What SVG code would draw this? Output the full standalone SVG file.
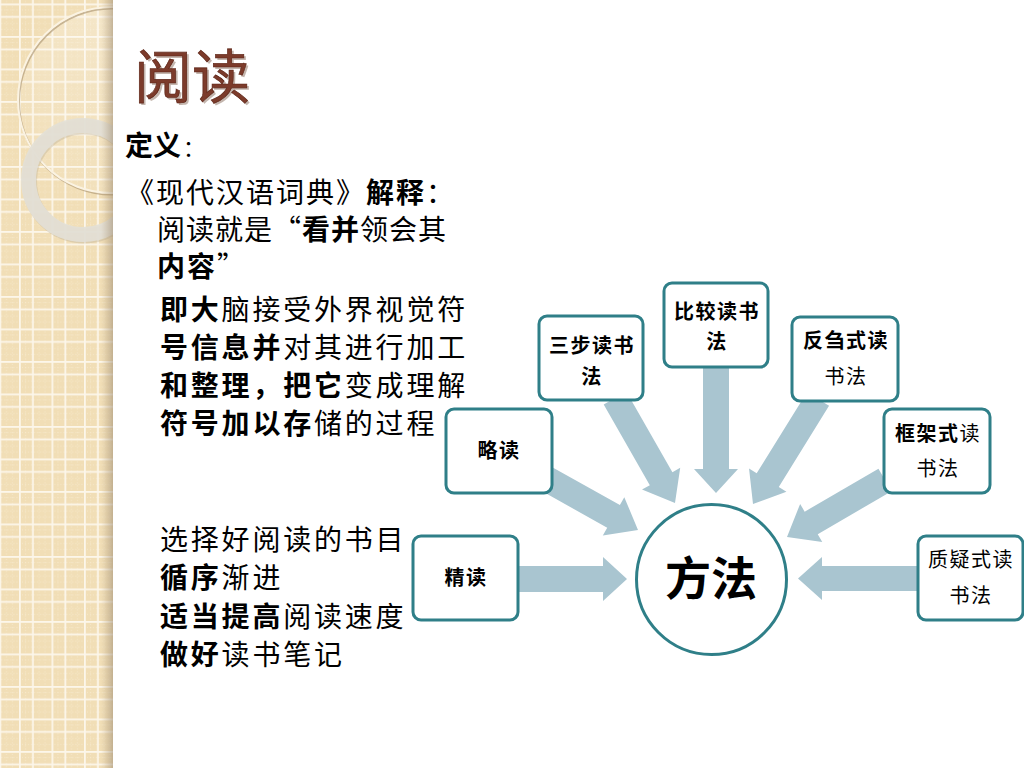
<svg xmlns="http://www.w3.org/2000/svg" width="1024" height="768" viewBox="0 0 1024 768">
<style>
  text { font-family: "Noto Sans CJK SC", "Noto Sans", sans-serif; fill: #000; }
  .body { font-size: 28px; letter-spacing: 2.8px; }
  .body1 { font-size: 28px; letter-spacing: 2px; }
  .b { font-weight: 700; }
  .node { fill: #ffffff; stroke: #2f7f88; stroke-width: 3; }
  .nt { font-size: 20px; font-weight: 700; letter-spacing: 1.5px; text-anchor: middle; }
  .nr { font-size: 20px; font-weight: 400; letter-spacing: 1.5px; text-anchor: middle; }
  .arrow { fill: #a9c5d0; }
</style>
<defs>
  <pattern id="grid" patternUnits="userSpaceOnUse" x="19" y="3.5" width="32.5" height="32.5">
    <rect width="32.5" height="32.5" fill="#f1deb6"/>
    <path d="M6.5 0V32.5M20 0V32.5M26 0V32.5M0 6.5H32.5M0 20H32.5M0 26H32.5" stroke="#f7ead0" stroke-width="0.8" stroke-dasharray="1 2"/>
    <rect x="0" y="0" width="1.8" height="32.5" fill="#fcf6ea"/>
    <rect x="13" y="0" width="1.8" height="32.5" fill="#fcf6ea"/>
    <rect x="0" y="0" width="32.5" height="1.8" fill="#fcf6ea"/>
    <rect x="0" y="12.5" width="32.5" height="1.8" fill="#fcf6ea"/>
  </pattern>
  <linearGradient id="edge" x1="0" y1="0" x2="1" y2="0">
    <stop offset="0" stop-color="#b09a78" stop-opacity="0"/>
    <stop offset="1" stop-color="#9c8a70" stop-opacity="0.55"/>
  </linearGradient>
  <linearGradient id="hl" x1="0" y1="1" x2="1" y2="0">
    <stop offset="0" stop-color="#ffffff" stop-opacity="0"/>
    <stop offset="1" stop-color="#ffffff" stop-opacity="0.35"/>
  </linearGradient>
  <clipPath id="strip"><rect x="0" y="0" width="113" height="768"/></clipPath>
</defs>

<rect x="0" y="0" width="1024" height="768" fill="#ffffff"/>

<g id="side-strip" clip-path="url(#strip)">
  <rect x="0" y="0" width="113" height="768" fill="url(#grid)"/>
  <circle cx="111" cy="100" r="93" fill="url(#hl)"/>
  <circle cx="112" cy="101.5" r="93" fill="none" stroke="#a8916c" stroke-width="2" opacity="0.6"/>
  <circle cx="111" cy="100" r="93" fill="none" stroke="#fbf3e2" stroke-width="2"/>
  <circle cx="84" cy="181.5" r="54.5" fill="none" stroke="#b8ab96" stroke-width="15" opacity="0.35"/>
  <circle cx="83" cy="180" r="54.5" fill="none" stroke="#e3dfd6" stroke-width="15" opacity="0.92"/>
  <rect x="101" y="0" width="12" height="768" fill="url(#edge)"/>
</g>

<g id="title">
  <text x="136" y="100" font-size="58" style="fill:#c4b6ae">阅读</text>
  <text x="134" y="98" font-size="58" style="fill:#7c3b2b" stroke="#5a2214" stroke-width="0.6">阅读</text>
</g>

<g id="definition">
  <text x="125" y="156" font-size="28"><tspan class="b">定义</tspan><tspan font-size="22" dx="2">：</tspan></text>
  <text class="body1" x="126" y="203">《现代汉语词典》<tspan class="b">解释</tspan>：</text>
  <text class="body1" x="157" y="240" style="letter-spacing:1px">阅读就是“<tspan class="b">看并</tspan>领会其</text>
  <text class="body1" x="157" y="277"><tspan class="b">内容</tspan>”</text>
</g>

<g id="explanation">
  <text class="body" x="160" y="320"><tspan class="b">即大</tspan>脑接受外界视觉符</text>
  <text class="body" x="160" y="358"><tspan class="b">号信息并</tspan>对其进行加工</text>
  <text class="body" x="160" y="396"><tspan class="b">和整理，把它</tspan>变成理解</text>
  <text class="body" x="160" y="434"><tspan class="b">符号加以存</tspan>储的过程</text>
</g>

<g id="tips">
  <text class="body" x="160" y="550">选择好阅读的书目</text>
  <text class="body" x="160" y="588"><tspan class="b">循序</tspan>渐进</text>
  <text class="body" x="160" y="627"><tspan class="b">适当提高</tspan>阅读速度</text>
  <text class="body" x="160" y="665"><tspan class="b">做好</tspan>读书笔记</text>
</g>

<g id="connectors">
  <polygon class="arrow" points="603.71,404.45 649.82,485.14 642.01,489.60 675,503 680.21,467.78 672.40,472.24 626.29,391.55"/>
  <polygon class="arrow" points="703,365 703,469 694,469 716,493 738,469 729,469 729,365"/>
  <polygon class="arrow" points="806.95,392.16 756.69,473.35 749.03,468.61 753,504 786.45,491.77 778.79,487.03 829.05,405.84"/>
  <polygon class="arrow" points="538.66,489.35 607.22,527.69 602.82,535.54 638,530 624.30,497.14 619.90,504.99 551.34,466.65"/>
  <polygon class="arrow" points="878.46,468.76 804.66,511.68 800.14,503.90 787,537 822.26,541.94 817.74,534.16 891.54,491.24"/>
  <polygon class="arrow" points="516,566 603,566 603,557 627,579 603,601 603,592 516,592"/>
  <polygon class="arrow" points="919,566 822,566 822,557 798,578.5 822,600 822,591 919,591"/>
</g>

<g id="node-sanbu">
  <rect class="node" x="539" y="316" width="104" height="84" rx="8"/>
  <text class="nt" x="592" y="353">三步读书</text>
  <text class="nt" x="592" y="384">法</text>
</g>
<g id="node-bijiao">
  <rect class="node" x="664" y="283" width="104" height="84" rx="8"/>
  <text class="nt" x="717" y="319">比较读书</text>
  <text class="nt" x="717" y="349">法</text>
</g>
<g id="node-fanchu">
  <rect class="node" x="792" y="317" width="106" height="84" rx="8"/>
  <text class="nt" x="846" y="348">反刍式读</text>
  <text class="nr" x="846" y="384">书法</text>
</g>
<g id="node-lue">
  <rect class="node" x="446" y="409" width="106" height="84" rx="8"/>
  <text class="nt" x="499" y="458">略读</text>
</g>
<g id="node-kuangjia">
  <rect class="node" x="884" y="409" width="106" height="84" rx="8"/>
  <text x="938" y="441" font-size="20" letter-spacing="1.5" text-anchor="middle"><tspan class="b">框架式</tspan>读</text>
  <text class="nr" x="938" y="476">书法</text>
</g>
<g id="node-jing">
  <rect class="node" x="413" y="536" width="105" height="84" rx="8"/>
  <text class="nt" x="466" y="585">精读</text>
</g>
<g id="node-zhiyi">
  <rect class="node" x="918" y="536" width="105" height="84" rx="8"/>
  <text class="nr" x="971" y="567">质疑式读</text>
  <text class="nr" x="971" y="603">书法</text>
</g>
<g id="node-fangfa">
  <circle class="node" cx="711.5" cy="579.5" r="75"/>
  <text x="711" y="595" font-size="46" font-weight="700" text-anchor="middle">方法</text>
</g>
</svg>
